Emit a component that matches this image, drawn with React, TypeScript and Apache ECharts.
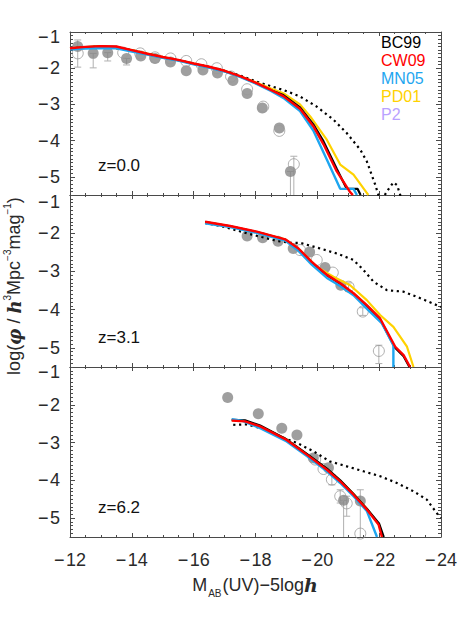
import React, { useEffect, useRef } from 'react';
import * as echarts from 'echarts';

// ---------- data ----------
const panelLabels = ['z=0.0', 'z=3.1', 'z=6.2'];
const legendNames = ['BC99', 'CW09', 'MN05', 'PD01', 'P2'];
const legendColors = ['#000000', '#ff0000', '#1ea6f0', '#ffd200', '#b9a2ff'];
const xTicks = [-12, -14, -16, -18, -20, -22, -24];
const yTicks = [-5, -4, -3, -2, -1];
const yHalfTicks = [-4.5, -3.5, -2.5, -1.5];

// z = 0.0
const bc99_z0 = [[-12, -1.46], [-12.5, -1.42], [-13, -1.40], [-13.5, -1.41], [-14, -1.51], [-14.5, -1.61], [-15, -1.70], [-15.5, -1.78], [-16, -1.88], [-16.5, -1.97], [-17, -2.08], [-17.5, -2.23], [-18, -2.41], [-18.5, -2.61], [-18.9, -2.74], [-19.44, -3.08], [-19.87, -3.55], [-20.2, -4.02], [-20.63, -4.78], [-20.95, -5.33], [-21.3, -5.33], [-21.4, -5.5]];
const cw09_z0 = [[-12, -1.45], [-12.5, -1.41], [-13, -1.39], [-13.5, -1.40], [-14, -1.50], [-14.5, -1.60], [-15, -1.69], [-15.5, -1.77], [-16, -1.87], [-16.5, -1.96], [-17, -2.07], [-17.5, -2.22], [-18, -2.40], [-18.5, -2.60], [-18.9, -2.77], [-19.44, -3.12], [-19.87, -3.60], [-20.2, -4.10], [-20.63, -4.85], [-21.06, -5.42], [-21.15, -5.5]];
const mn05_z0 = [[-12, -1.48], [-12.5, -1.46], [-13, -1.44], [-13.5, -1.45], [-14, -1.54], [-14.5, -1.62], [-15, -1.71], [-15.5, -1.79], [-16, -1.89], [-16.5, -1.98], [-17, -2.09], [-17.5, -2.24], [-18, -2.42], [-18.5, -2.63], [-18.9, -2.82], [-19.44, -3.18], [-19.87, -3.72], [-20.31, -4.53], [-20.74, -5.33], [-21.17, -5.33], [-21.28, -5.5]];
const pd01_z0 = [[-12, -1.45], [-13, -1.39], [-14, -1.50], [-15, -1.69], [-16, -1.87], [-17, -2.07], [-17.5, -2.22], [-18, -2.39], [-18.5, -2.56], [-18.9, -2.69], [-19.44, -3.0], [-19.77, -3.33], [-20.31, -3.98], [-20.74, -4.66], [-21.17, -4.94], [-21.6, -5.44], [-21.65, -5.5]];
const dotted_z0 = [[-12, -1.45], [-13, -1.40], [-14, -1.50], [-15, -1.69], [-16, -1.87], [-17, -2.07], [-17.5, -2.20], [-18, -2.36], [-18.36, -2.46], [-18.9, -2.60], [-19.44, -2.78], [-19.98, -3.06], [-20.52, -3.42], [-20.95, -3.79], [-21.39, -4.25], [-21.6, -4.57], [-21.87, -5.21], [-22.05, -5.7], [-22.25, -5.4], [-22.46, -5.15], [-22.58, -5.23], [-22.72, -5.6]];
const obsFilled_z0 = [[-12.25, -1.40], [-12.75, -1.59], [-13.22, -1.57], [-13.83, -1.73], [-14.29, -1.66], [-14.75, -1.73], [-15.25, -1.83], [-15.76, -2.07], [-16.30, -2.05], [-16.77, -2.13], [-17.27, -2.34], [-17.73, -2.70], [-18.22, -3.10], [-18.77, -3.65], [-19.13, -4.85]];
const obsOpen_z0 = [[-12.25, -1.59], [-13.72, -1.57], [-14.27, -1.59], [-14.75, -1.70], [-15.25, -1.73], [-15.76, -1.80], [-16.25, -1.89], [-16.75, -2.0], [-17.21, -2.23], [-17.73, -2.58], [-18.25, -3.06], [-18.77, -3.73], [-19.24, -4.65]];
const errors_z0 = [[-12.25, -1.97, -1.22], [-12.75, -1.99, -1.59], [-13.22, -1.80, -1.57], [-13.83, -1.91, -1.73], [-19.24, -5.5, -4.43], [-19.13, -5.5, -4.85]];

// z = 3.1
const bc99_z3 = [[-16.37, -1.71], [-17.18, -1.82], [-18.04, -1.97], [-18.96, -2.17], [-19.39, -2.42], [-19.82, -2.77], [-20.31, -3.10], [-20.74, -3.32], [-21.17, -3.58], [-21.6, -3.90], [-22.03, -4.25], [-22.5, -4.98], [-22.79, -5.22], [-22.98, -5.5]];
const cw09_z3 = [[-16.37, -1.70], [-17.18, -1.81], [-18.04, -1.96], [-18.96, -2.16], [-19.39, -2.40], [-19.82, -2.75], [-20.31, -3.09], [-20.74, -3.31], [-21.17, -3.57], [-21.6, -3.88], [-22.03, -4.23], [-22.52, -4.97], [-22.79, -5.19], [-23.0, -5.5]];
const mn05_z3 = [[-16.37, -1.74], [-17.18, -1.84], [-18.04, -1.99], [-18.96, -2.19], [-19.39, -2.46], [-19.82, -2.82], [-20.31, -3.17], [-20.74, -3.38], [-21.17, -3.62], [-21.65, -4.01], [-22.09, -4.36], [-22.46, -4.93], [-22.46, -5.5]];
const pd01_z3 = [[-16.37, -1.71], [-17.18, -1.82], [-18.04, -1.97], [-18.96, -2.16], [-19.44, -2.44], [-19.98, -2.88], [-20.52, -3.14], [-21.06, -3.36], [-21.6, -3.75], [-22.03, -4.14], [-22.46, -4.45], [-22.9, -4.97], [-23.11, -5.5]];
const dotted_z3 = [[-16.37, -1.73], [-16.96, -1.83], [-17.72, -2.0], [-18.2, -2.1], [-18.69, -2.20], [-19.12, -2.25], [-19.44, -2.25], [-20.09, -2.40], [-20.63, -2.53], [-21.17, -2.70], [-21.49, -2.96], [-21.82, -3.27], [-22.25, -3.49], [-22.79, -3.53], [-23.33, -3.70], [-24, -3.93]];
const obsFilled_z3 = [[-17.73, -2.07], [-18.23, -2.12], [-18.73, -2.21], [-19.22, -2.40], [-19.75, -2.49], [-20.25, -2.90], [-20.76, -3.36]];
const obsOpen_z3 = [[-19.44, -2.44], [-19.98, -2.70], [-20.50, -3.03], [-21.01, -3.40], [-21.47, -4.05], [-21.99, -5.08]];
const errors_z3 = [[-21.01, -3.52, -3.30], [-21.47, -4.15, -3.95], [-21.99, -5.41, -4.93]];

// z = 6.2
const bc99_z6 = [[-17.23, -2.40], [-17.66, -2.41], [-18.15, -2.55], [-19.01, -2.92], [-19.66, -3.30], [-20.31, -3.69], [-20.74, -4.0], [-21.17, -4.36], [-21.6, -4.75], [-22.0, -5.15], [-22.15, -5.5]];
const cw09_z6 = [[-17.23, -2.42], [-17.66, -2.44], [-18.15, -2.57], [-19.01, -2.93], [-19.66, -3.32], [-20.31, -3.72], [-20.74, -4.03], [-21.17, -4.38], [-21.6, -4.77], [-21.98, -5.17], [-22.09, -5.5]];
const mn05_z6 = [[-17.23, -2.38], [-17.6, -2.43], [-18.15, -2.62], [-19.01, -2.97], [-19.66, -3.36], [-20.31, -3.76], [-20.74, -4.07], [-21.17, -4.42], [-21.6, -4.81], [-21.93, -5.5]];
const pd01_z6 = [[-17.23, -2.41], [-17.66, -2.43], [-18.15, -2.56], [-19.01, -2.92], [-19.66, -3.31], [-20.31, -3.70], [-20.74, -4.01], [-21.17, -4.36], [-21.6, -4.75], [-22.0, -5.18], [-22.12, -5.5]];
const dotted_z6 = [[-17.28, -2.53], [-17.7, -2.52], [-18.2, -2.62], [-18.8, -2.84], [-19.34, -3.01], [-19.87, -3.23], [-20.41, -3.50], [-20.95, -3.63], [-21.49, -3.76], [-22.03, -3.89], [-22.57, -4.07], [-23.11, -4.29], [-23.54, -4.51], [-23.92, -4.93], [-24, -5.0]];
const obsFilled_z6 = [[-17.10, -1.81], [-18.09, -2.24], [-18.85, -2.62], [-19.34, -2.80], [-19.87, -3.41], [-20.36, -3.67], [-20.85, -4.53], [-21.39, -4.55]];
const obsOpen_z6 = [[-19.93, -3.45], [-20.20, -3.70], [-20.47, -3.98], [-20.74, -4.42], [-20.95, -4.61], [-21.39, -5.41]];
const errors_z6 = [[-20.47, -4.12, -3.85], [-20.74, -4.60, -4.25], [-20.85, -5.5, -4.53], [-20.95, -4.95, -4.42], [-21.39, -5.5, -4.25]];

const panels = [
  { bc99: bc99_z0, cw09: cw09_z0, mn05: mn05_z0, pd01: pd01_z0, dotted: dotted_z0, filled: obsFilled_z0, open: obsOpen_z0, errors: errors_z0 },
  { bc99: bc99_z3, cw09: cw09_z3, mn05: mn05_z3, pd01: pd01_z3, dotted: dotted_z3, filled: obsFilled_z3, open: obsOpen_z3, errors: errors_z3 },
  { bc99: bc99_z6, cw09: cw09_z6, mn05: mn05_z6, pd01: pd01_z6, dotted: dotted_z6, filled: obsFilled_z6, open: obsOpen_z6, errors: errors_z6 },
];

// ---------- layout ----------
const W = 463;
const H = 633;
const LEFT = 70;
const RIGHT = 22;
const panelTops = [32, 195, 367];
const panelHeights = [163, 172, 170];
const Y_MIN = -5.5;
const Y_MAX = -1;
const FONT = '"Liberation Sans", Arial, Helvetica, sans-serif';
const SERIF = '"DejaVu Serif", "Liberation Serif", serif';
const FRAME = '#4a4a4a';
const TXT = '#2a2a2a';

const fmt = (v: number) => (v < 0 ? '\u2212\u200a' + Math.abs(v) : String(v));

function buildOption() {
  const grid: any[] = [];
  const xAxis: any[] = [];
  const yAxis: any[] = [];
  const series: any[] = [];

  panels.forEach((p, i) => {
    grid.push({ left: LEFT, right: RIGHT, top: panelTops[i], height: panelHeights[i] });
    const xBase = {
      gridIndex: i, type: 'value', min: -24, max: -12, inverse: true, interval: 2,
      axisLine: { show: true, onZero: false, lineStyle: { color: FRAME, width: 1 } },
      axisTick: { show: true, inside: true, length: 4, lineStyle: { color: FRAME } },
      minorTick: { show: true, splitNumber: 4, length: 2, lineStyle: { color: FRAME } },
      splitLine: { show: false },
    };
    xAxis.push({
      ...xBase, position: 'bottom',
      axisLabel: {
        show: i === 2, margin: 14, fontSize: 18, color: TXT, fontFamily: FONT,
        customValues: xTicks, formatter: fmt,
      },
      axisTick: { ...xBase.axisTick, customValues: xTicks },
    });
    xAxis.push({ ...xBase, position: 'top', axisLabel: { show: false } });

    const yBase = {
      gridIndex: i, type: 'value', min: Y_MIN, max: Y_MAX, interval: 0.5,
      splitLine: { show: false },
    };
    const yMain = {
      ...yBase,
      axisLine: { show: true, onZero: false, lineStyle: { color: FRAME, width: 1 } },
      axisTick: { show: true, inside: true, length: 5, customValues: yTicks, lineStyle: { color: FRAME } },
      minorTick: { show: true, splitNumber: 5, length: 3, lineStyle: { color: FRAME } },
    };
    yAxis.push({
      ...yMain, position: 'left',
      axisLabel: {
        show: true, customValues: yTicks, margin: 10, fontSize: 18, color: TXT, fontFamily: FONT,
        formatter: (v: number) => (v === Y_MAX ? '{t|' + fmt(v) + '}' : fmt(v)),
        rich: { t: { fontSize: 18, color: TXT, fontFamily: FONT, padding: [i === 1 ? 14 : 10, 0, 0, 0] } },
      },
    });
    yAxis.push({ ...yMain, position: 'right', axisLabel: { show: false } });
    const yAux = {
      ...yBase,
      axisLine: { show: false },
      axisTick: { show: true, inside: true, length: 3, customValues: yHalfTicks, lineStyle: { color: FRAME } },
      axisLabel: { show: false, customValues: yHalfTicks },
    };
    yAxis.push({ ...yAux, position: 'left' });
    yAxis.push({ ...yAux, position: 'right' });

    const xi = 2 * i;
    const yi = 4 * i;

    // error bars
    series.push({
      type: 'custom', xAxisIndex: xi, yAxisIndex: yi, z: 2, silent: true,
      encode: { x: 0, y: [1, 2] },
      data: p.errors,
      renderItem: (params: any, api: any) => {
        const x = api.value(0);
        const lo = api.value(1);
        const hi = api.value(2);
        const a = api.coord([x, lo]);
        const b = api.coord([x, hi]);
        const st = { stroke: '#b0b0b0', lineWidth: 1 };
        const ch: any[] = [{ type: 'line', shape: { x1: a[0], y1: a[1], x2: b[0], y2: b[1] }, style: st }];
        if (lo > Y_MIN) ch.push({ type: 'line', shape: { x1: a[0] - 3.5, y1: a[1], x2: a[0] + 3.5, y2: a[1] }, style: st });
        ch.push({ type: 'line', shape: { x1: b[0] - 3.5, y1: b[1], x2: b[0] + 3.5, y2: b[1] }, style: st });
        return { type: 'group', children: ch };
      },
    });
    series.push({
      type: 'scatter', xAxisIndex: xi, yAxisIndex: yi, z: 3, silent: true,
      symbol: 'circle', symbolSize: 11, data: p.filled,
      itemStyle: { color: '#878787' },
    });
    series.push({
      type: 'scatter', xAxisIndex: xi, yAxisIndex: yi, z: 4, silent: true,
      symbol: 'circle', symbolSize: 11, data: p.open,
      itemStyle: { color: 'rgba(0,0,0,0)', borderColor: '#9a9a9a', borderWidth: 1 },
    });
    const line = (data: number[][], color: string, width: number, z: number, type: any = 'solid') => ({
      type: 'line', xAxisIndex: xi, yAxisIndex: yi, data, z, silent: true,
      symbol: 'none', showSymbol: false, clip: true,
      lineStyle: { color, width, type, cap: 'butt' },
    });
    series.push(line(p.dotted, '#000', 2.2, 5, [2.2, 3.6]));
    series.push(line(p.pd01, legendColors[3], 2.2, 6));
    series.push(line(p.bc99, legendColors[0], 2.2, 7));
    series.push(line(p.mn05, legendColors[2], 2.4, 8));
    series.push(line(p.cw09, legendColors[1], 2.4, 9));
  });

  const graphic: any[] = [];
  legendNames.forEach((n, k) => {
    graphic.push({
      type: 'text', left: 381, top: 43 + k * 18 - 9,
      style: { text: n, fill: legendColors[k], font: '16px ' + FONT },
    });
  });
  const zY = [165, 337, 507];
  panelLabels.forEach((t, k) => {
    graphic.push({
      type: 'text', x: 98, y: zY[k],
      style: { text: t, fill: '#111', font: '17px ' + FONT, verticalAlign: 'middle', align: 'left' },
    });
  });
  graphic.push({
    type: 'text', x: 255, y: 585,
    style: {
      text: '{n|M}{s|AB}{n|(UV)\u22125log}{h|h}',
      align: 'center', verticalAlign: 'middle',
      rich: {
        n: { fontSize: 18, fontFamily: FONT, fill: TXT, lineHeight: 24 },
        s: { fontSize: 10, fontFamily: FONT, fill: TXT, lineHeight: 24, padding: [16, 1, 0, 1] },
        h: { fontSize: 19, fontFamily: SERIF, fontStyle: 'italic', fontWeight: 'bold', fill: TXT, lineHeight: 24 },
      },
    },
  });
  graphic.push({
    type: 'text', x: 14, y: 286, rotation: Math.PI / 2,
    style: {
      text: '{n|log(}{b|\u03c6}{n| / }{b|h}{u|3}{n|Mpc}{u|\u22123}{n|mag}{u|\u22121}{n|)}',
      align: 'center', verticalAlign: 'middle',
      rich: {
        n: { fontSize: 18, fontFamily: FONT, fill: TXT, lineHeight: 24 },
        b: { fontSize: 18, fontFamily: SERIF, fontStyle: 'italic', fontWeight: 'bold', fill: TXT, lineHeight: 24 },
        u: { fontSize: 10, fontFamily: FONT, fill: TXT, lineHeight: 24, padding: [0, 0, 14, 0] },
      },
    },
  });

  return { animation: false, backgroundColor: '#fff', grid, xAxis, yAxis, series, graphic };
}

export default function App() {
  const ref = useRef<HTMLDivElement>(null);
  useEffect(() => {
    if (!ref.current) return;
    const chart = echarts.init(ref.current, undefined, { renderer: 'svg' });
    chart.setOption(buildOption() as any);
    return () => chart.dispose();
  }, []);
  return <div ref={ref} style={{ position: 'absolute', left: 0, top: 0, width: W, height: H }} />;
}
